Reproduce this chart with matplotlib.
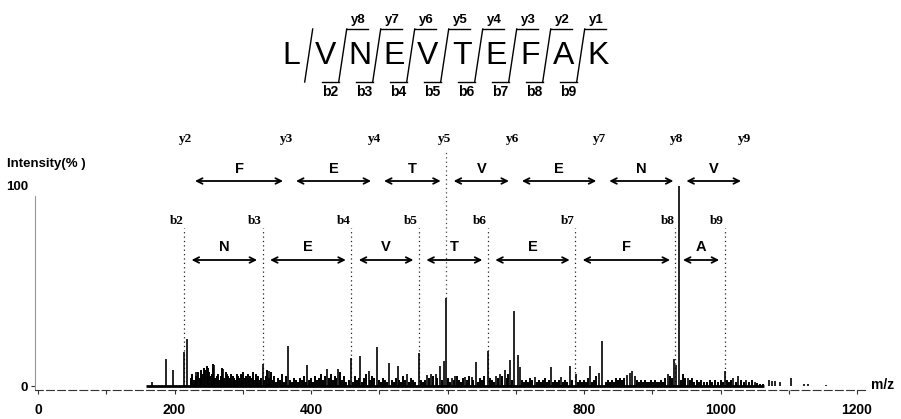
import matplotlib
matplotlib.use('Agg')
import matplotlib.pyplot as plt
from matplotlib.ticker import MultipleLocator
import warnings
warnings.filterwarnings('ignore')

# ---------------- data ----------------
sequence = list('LVNEVTEFAK')
seq_y_labels = ['y8', 'y7', 'y6', 'y5', 'y4', 'y3', 'y2', 'y1']
seq_b_labels = ['b2', 'b3', 'b4', 'b5', 'b6', 'b7', 'b8', 'b9']

baseline_range = [158, 1064]

peak_mz = [167, 187.5, 198, 214, 219, 231, 258, 271.5, 329, 338, 366, 394.5,
           423.5, 440, 459, 472, 484.5, 496, 514, 527, 540, 558, 570, 576,
           583, 589, 595, 598, 606, 611, 626, 635.5, 642, 659, 671, 677, 684,
           692, 698, 702.8, 706, 728, 752, 766, 779.5, 788, 809, 822, 827,
           862.5, 867, 871, 874, 923, 932.5, 935.5, 938.5, 952.5, 1006, 1018,
           1026, 1038, 1050, 1071, 1075, 1080, 1087, 1104, 1123, 1128, 1154]
peak_int = [2, 13.5, 8, 17, 23.5, 7, 10.5, 8.5, 11, 7.7, 20, 10.5,
            8.5, 8.5, 13.8, 15, 7.7, 19.7, 11.7, 10, 6, 16.7, 5.5, 6,
            6, 10, 12.7, 44, 4, 5, 4.5, 4.5, 12, 17.7, 5, 6, 8,
            13, 37.5, 15.5, 9.3, 4.5, 9.3, 4.5, 10, 6, 10, 6.5, 22.5,
            5.5, 6.7, 7.3, 5, 6, 13.3, 10.5, 100, 4, 7.7, 4,
            5, 3, 2, 3, 2.5, 2.5, 2, 3.8, 0.8, 0.8, 0.6]

noise_mz = [224, 226, 229, 232, 234, 237, 239, 241, 243, 245, 247, 249, 251, 253,
            255, 257, 260, 262, 264, 266, 268, 270, 273, 275, 277, 279, 281, 283,
            285, 287, 289, 291, 293, 295, 297, 299, 301, 303, 305, 307, 309, 311,
            313, 315, 317, 319, 321, 323, 325, 327,
            331, 334, 336, 339, 341, 344, 346, 349, 352, 355, 358, 361, 364, 369,
            372, 375, 378, 381, 384, 387, 390, 392, 397, 400, 403, 406, 409, 412,
            415, 418, 421, 426, 429, 432, 435, 437, 443, 446, 449, 452, 455,
            462, 465, 468, 470, 475, 478, 481, 487, 490, 493, 499, 502, 505, 508,
            511, 518, 521, 524, 529, 532, 535, 538, 543, 546, 549, 552,
            561, 564, 567, 573, 579, 585, 592, 601, 603, 609, 614, 617, 620, 623,
            629, 632, 638, 645, 648, 651, 654, 662, 665, 668, 674, 680, 687, 689, 695,
            709, 712, 715, 718, 721, 724, 731, 734, 737, 740, 743, 746, 749, 755,
            758, 761, 764, 769, 772, 775, 783, 791, 794, 797, 800, 803, 806, 812,
            815, 818, 832, 835, 838, 841, 844, 847, 850, 853, 856, 859, 877, 880,
            883, 886, 889, 892, 895, 898, 901, 904, 907, 910, 913, 916, 919, 926, 929,
            942, 945, 948, 955, 958, 961, 965, 968, 972, 976, 980, 984, 988, 992,
            996, 1000, 1003, 1010, 1013, 1016, 1022, 1030, 1034, 1042, 1046, 1054,
            1058, 1062]
noise_int = [4, 6, 3, 5, 7, 4, 8, 6, 9, 8, 10, 9, 7, 5,
             6, 11, 4, 5, 6, 3, 5, 9, 4, 7, 6, 5, 4, 6,
             5, 4, 3, 6, 5, 4, 6, 3, 7, 4, 5, 6, 3, 5,
             4, 7, 3, 6, 4, 5, 3, 4,
             3, 5, 8, 4, 7, 3, 5, 2, 4, 3, 6, 2, 5, 3,
             2, 4, 3, 2, 4, 3, 5, 2, 3, 4, 2, 5, 3, 4,
             6, 3, 5, 4, 6, 3, 5, 4, 7, 3, 5, 2, 3,
             2, 5, 3, 4, 2, 4, 6, 3, 5, 4, 3, 2, 4, 3,
             2, 3, 2, 4, 3, 2, 5, 3, 2, 4, 3, 2,
             3, 2, 3, 4, 5, 4, 3, 4, 2, 3, 5, 3, 2, 4,
             3, 5, 3, 2, 4, 3, 5, 4, 3, 2, 4, 5, 4, 6, 3,
             3, 2, 3, 2, 4, 3, 2, 3, 2, 3, 4, 2, 3, 2,
             3, 2, 3, 2, 3, 2, 3, 2, 3, 2, 3, 2, 4, 2,
             3, 5, 2, 3, 2, 3, 2, 4, 3, 4, 3, 4, 3, 2,
             3, 2, 3, 2, 2, 3, 2, 3, 2, 2, 3, 2, 4, 5, 4,
             3, 6, 4, 3, 4, 2, 3, 2, 3, 2, 2, 3, 2, 3,
             2, 3, 2, 3, 2, 3, 2, 3, 2, 2, 3, 1.5,
             1, 1]

b_labels = ['b2', 'b3', 'b4', 'b5', 'b6', 'b7', 'b8', 'b9']
b_mz = [214, 329, 459, 558, 659, 787, 934, 1006]
b_residues = ['N', 'E', 'V', 'T', 'E', 'F', 'A']
y_labels = ['y2', 'y3', 'y4', 'y5', 'y6', 'y7', 'y8', 'y9']
y_mz = [219, 367, 496, 598, 698, 826, 939, 1038]
y_residues = ['F', 'E', 'T', 'V', 'E', 'N', 'V']
y_dotted = ['y5']

x_ticks = [0, 200, 400, 600, 800, 1000, 1200]
y_ticks = [0, 100]
y_tick_labels = ['0', '100']

# ---------------- figure ----------------
W, H = 901, 419
fig = plt.figure(figsize=(W / 100, H / 100), dpi=100)
fig.patch.set_facecolor('white')

SANS = ['Liberation Sans', 'DejaVu Sans']
SERIF = ['Liberation Serif', 'DejaVu Serif']

ax = fig.add_axes([35 / W, (H - 390) / H, 830 / W, 204 / H])
ax.set_xlim(-4.4, 1211.7)
ax.set_ylim(-2, 100)
ax.set_facecolor('none')

# spectrum
ax.hlines(0, baseline_range[0], baseline_range[1], color='black', lw=2.0, zorder=3)
ax.vlines(noise_mz, 0, noise_int, color='black', lw=1.4, zorder=3)
ax.vlines(peak_mz, 0, peak_int, color='black', lw=1.2, zorder=4)

# axes styling
for s in ['top', 'right']:
    ax.spines[s].set_visible(False)
ax.spines['bottom'].set_linestyle((0, (7, 3)))
ax.spines['bottom'].set_color('#333333')
ax.spines['bottom'].set_linewidth(0.8)
ax.spines['left'].set_color('#999999')
ax.spines['left'].set_linewidth(0.8)
ax.spines['left'].set_bounds(-2, 95)

ax.set_xticks(x_ticks)
ax.xaxis.set_minor_locator(MultipleLocator(100))
ax.tick_params(axis='x', which='both', direction='out', length=3, width=0.8,
               color='#333333', pad=6)
ax.set_xticklabels([str(t) for t in x_ticks], fontfamily=SANS,
                   fontweight='bold', fontsize=10)
ax.set_yticks(y_ticks)
ax.set_yticklabels(y_tick_labels, fontfamily=SANS, fontweight='bold', fontsize=9.5)
ax.tick_params(axis='y', direction='out', length=3, width=0.8, color='#333333', pad=2)
ax.yaxis.get_major_ticks()[1].tick1line.set_visible(False)

# ion annotations
lab_kw = dict(fontfamily=SERIF, fontweight='bold', fontsize=9.5, ha='center',
              va='center', clip_on=False)
res_kw = dict(fontfamily=SANS, fontweight='bold', fontsize=10.5, ha='center',
              va='center', clip_on=False)
arr_kw = dict(arrowstyle='<->', lw=1.3, color='black', shrinkA=0, shrinkB=0,
              mutation_scale=10)

for lab, mz in zip(y_labels, y_mz):
    ax.text(mz - 3, 123.5, lab, **lab_kw)
for i, res in enumerate(y_residues):
    x1, x2 = y_mz[i] + 11, y_mz[i + 1] - 8
    ax.annotate('', xy=(x2, 102.5), xytext=(x1, 102.5), arrowprops=arr_kw,
                annotation_clip=False)
    ax.text((x1 + x2) / 2, 108.5, res, **res_kw)

for lab, mz in zip(b_labels, b_mz):
    ax.text(mz - 1, 82.5, lab, fontfamily=SERIF, fontweight='bold', fontsize=9.5,
            ha='right', va='center', clip_on=False)
    ax.vlines(mz, 0, 79, color='#222222', lw=0.9, linestyles=(0, (1, 2.5)), zorder=2)
for i, res in enumerate(b_residues):
    x1, x2 = b_mz[i] + 11, b_mz[i + 1] - 8
    ax.annotate('', xy=(x2, 63), xytext=(x1, 63), arrowprops=arr_kw,
                annotation_clip=False)
    ax.text((x1 + x2) / 2, 69.5, res, **res_kw)

for lab in y_dotted:
    mz = y_mz[y_labels.index(lab)]
    top_peak = max(v for m, v in zip(peak_mz, peak_int) if abs(m - mz) < 2)
    ax.vlines(mz, top_peak, 118, color='#444444', lw=0.9,
              linestyles=(0, (1, 2.5)), zorder=2, clip_on=False)

fig.text(7 / W, 1 - 164 / H, 'Intensity(% )', fontfamily=SANS, fontweight='bold',
         fontsize=9.5, ha='left', va='center')
fig.text(871 / W, 1 - 385 / H, 'm/z', fontfamily=SANS, fontweight='bold',
         fontsize=10, ha='left', va='center')

# ---------------- sequence diagram ----------------
ax2 = fig.add_axes([0, 0, 1, 1])
ax2.set_xlim(0, W)
ax2.set_ylim(H, 0)
ax2.axis('off')
ax2.patch.set_alpha(0)

x0, dx, ymid = 291.7, 34.0, 56.5
ytop, ybot = 29, 82
for i, ch in enumerate(sequence):
    ax2.text(x0 + i * dx, ymid, ch, fontfamily=['Liberation Sans Narrow', 'Liberation Sans'],
             fontsize=23, ha='center', va='center')
for j in range(len(sequence) - 1):
    xc = x0 + (j + 0.5) * dx
    ax2.plot([xc - 4, xc + 4], [ybot, ytop], color='black', lw=1.0)
    if j >= 1:
        ax2.plot([xc + 4, xc + 25], [ytop, ytop], color='black', lw=1.0)
        ax2.text(xc + 16, ytop - 9, seq_y_labels[j - 1], fontfamily=SANS,
                 fontweight='bold', fontsize=9.5, ha='center', va='center')
        ax2.plot([xc - 21, xc - 4], [ybot, ybot], color='black', lw=1.0)
        ax2.text(xc - 13, ybot + 10, seq_b_labels[j - 1], fontfamily=SANS,
                 fontweight='bold', fontsize=10, ha='center', va='center')

fig.savefig('out.png', dpi=100, facecolor='white')
